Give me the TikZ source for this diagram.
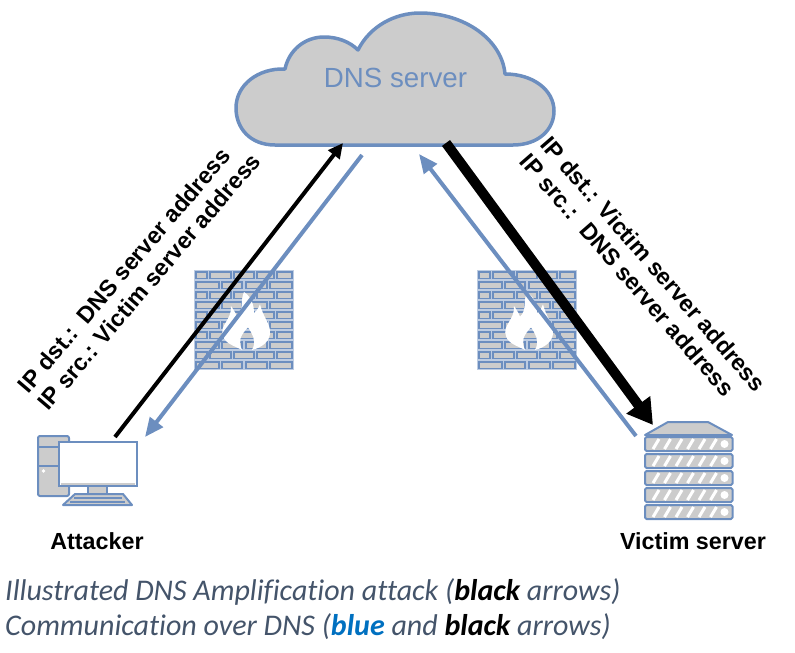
\documentclass[tikz,border=0pt]{standalone}
\usepackage{fontspec}
\setmainfont{Liberation Sans}
\newfontfamily\capfont[Ligatures=NoCommon]{Carlito}
\usetikzlibrary{arrows.meta}
\definecolor{dblue}{HTML}{6C8EBF}
\definecolor{dgray}{HTML}{CCCCCC}
\definecolor{capcol}{HTML}{44546A}
\definecolor{capblue}{HTML}{0070C0}
\tikzset{
  shapeline/.style={draw=dblue,fill=dgray,line width=2pt,line join=round},
  arrblack/.style={draw=black,line width=4pt,-{Triangle[length=15pt,width=14pt]}},
  arrheavy/.style={draw=black,line width=10pt,-{Triangle[length=25pt,width=28pt]}},
  arrblue/.style={draw=dblue,line width=4pt,-{Triangle[length=19pt,width=16pt]}},
  lab/.style={font=\bfseries\fontsize{23.3}{26}\selectfont,text=black,inner sep=0pt},
  hostlab/.style={font=\bfseries\fontsize{23.3}{26}\selectfont,text=black,inner sep=0pt},
  caption/.style={font=\capfont\itshape\fontsize{30}{33}\selectfont,text=capcol,inner sep=0pt,anchor=base west},
  brick/.style={draw=dblue,fill=dgray,line width=1.7pt},
}
\newcommand{\firewall}[2]{%
  \begin{scope}[shift={(#1,#2)}]
    \fill[white!55!dblue] (0,0) rectangle (100,100);
    \foreach \y [count=\i] in {2,12,22,32,42,52,62,72,82,92}{
      \pgfmathparse{int(mod(\i,2))}
      \ifnum\pgfmathresult=1
        \foreach \a/\b in {2/13,16/37,40/60,63/80,83/98}{\draw[brick] (\a,\y) rectangle (\b,\y+6.5);}
      \else
        \foreach \a/\b in {2/25,28/48,52/73,76/98}{\draw[brick] (\a,\y) rectangle (\b,\y+6.5);}
      \fi
    }
    \fill[white] (50,22) .. controls (46,30.8) and (50,40.4) .. (43,46.6)
      .. controls (41,41.3) and (39,39.6) .. (37,36)
      .. controls (38,50) and (25,55.4) .. (29,66)
      .. controls (31,73.8) and (42,76.5) .. (48,80)
      .. controls (44,71.2) and (46,66) .. (54,57.2)
      .. controls (60,66) and (62,73) .. (58,80)
      .. controls (68,77.4) and (77,71.2) .. (76,60.7)
      .. controls (75,51.9) and (69,46.6) .. (66,34.3)
      .. controls (64,39.6) and (62,41.3) .. (60,43.1)
      .. controls (60,36) and (58,27.2) .. (50,22) -- cycle;
  \end{scope}}
\begin{document}
\begin{tikzpicture}[x=1pt,y=-1pt]
\useasboundingbox (0,0) rectangle (795,653);
% cloud
\draw[shapeline,line width=3.5pt] (275,145)
  .. controls (250,145) and (236,128) .. (236,108)
  .. controls (236,85) and (258,68) .. (285,69)
  .. controls (289,50) and (305,37) .. (324,37)
  .. controls (338,37) and (350,42) .. (358,50)
  .. controls (370,26) and (395,13) .. (420,13)
  .. controls (465,13) and (502,40) .. (505,74)
  .. controls (533,74) and (554,90) .. (554,111)
  .. controls (554,130) and (538,145) .. (513,145) -- cycle;
\node[inner sep=0pt,text=dblue,font=\fontsize{27.7}{30}\selectfont] (dns) at (395.5,78) {DNS server};
% firewalls
\firewall{194}{270}
\firewall{477}{270}
% connector ends
\coordinate (attOut) at (115,437);
\coordinate (dnsIn) at (343,143);
\coordinate (dnsOut) at (362,155);
\coordinate (attIn) at (145,437);
\coordinate (vicOut) at (636,436);
\coordinate (dnsIn2) at (419,154);
\coordinate (dnsOut2) at (446,143);
\coordinate (vicIn) at (653,425);
\draw[arrblue] (dnsOut) -- (attIn);
\draw[arrblue] (vicOut) -- (dnsIn2);
\draw[arrblack] (attOut) -- (dnsIn);
\draw[arrheavy] (dnsOut2) -- (vicIn);
% labels
\node[lab,rotate=49.5] (l1) at (124,270) {IP dst.:\ \ DNS server address};
\node[lab,rotate=49.5] (l2) at (149,281.5) {IP src.: Victim server address};
\node[lab,rotate=-49] (r1) at (653.5,264) {IP dst.: Victim server address};
\node[lab,rotate=-49] (r2) at (627.5,275) {IP src.:\ \ DNS server address};
% attacker
\draw[shapeline,rounded corners=2pt] (38,436) rectangle (69,496);
\draw[dblue,line width=1.5pt] (38,447)--(69,447) (38,466)--(69,466);
\fill[white] (43.5,471) circle (1.8);
\draw[shapeline] (88,486) rectangle (107,494);
\draw[shapeline] (75,494)--(123,494)--(132,505)--(63,505)--cycle;
\draw[dblue,line width=1.2pt] (74,498)--(122,498) (70,502)--(125,502);
\draw[draw=dblue,fill=white,line width=2pt] (59,442) rectangle (137,486);
\draw[dgray,line width=1.5pt] (61,484)--(135,484);
\node[hostlab] (att) at (97,541) {Attacker};
% victim
\draw[shapeline] (645,435)--(668,422)--(708,422)--(732,435)--cycle;
\foreach \y in {437,454,471,488,505}{
  \draw[shapeline,rounded corners=1.5pt] (645,\y) rectangle (732.5,\y+14);
  \foreach \k in {0,...,5}{
    \draw[white,line width=3pt] (653+\k*11.5,\y+12)--(659+\k*11.5,\y+2);
  }
  \fill[white] (724.5,\y+7) circle (4);
}
\node[hostlab] (vic) at (693,541) {Victim server};
% caption
\node[caption] (c1) at (5,600) {Illustrated DNS Amplification attack ({\bfseries\color{black}black} arrows)};
\node[caption] (c2) at (5,635) {Communication over DNS ({\bfseries\color{capblue}blue} and {\bfseries\color{black}black} arrows)};
\end{tikzpicture}
\end{document}
